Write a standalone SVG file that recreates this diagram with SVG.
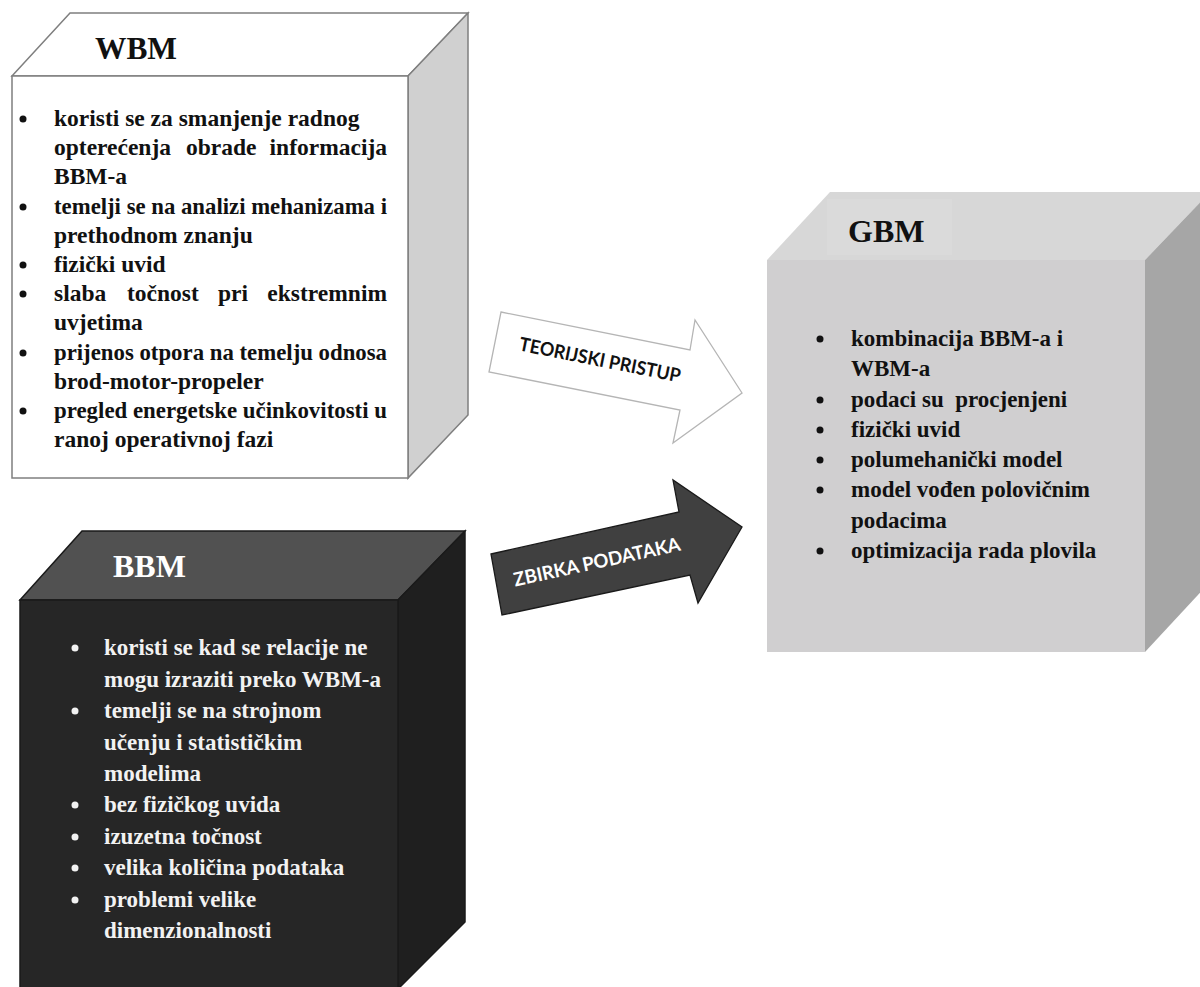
<svg xmlns="http://www.w3.org/2000/svg" width="1200" height="987" viewBox="0 0 1200 987">
<style>
.t{font-family:"Liberation Serif","Times New Roman",serif;font-weight:bold;font-size:23px;fill:#111}
.tl{font-size:23.5px}
.tw{font-family:"Liberation Serif","Times New Roman",serif;font-weight:bold;font-size:23px;fill:#f2f2f2}
.title{font-family:"Liberation Serif","Times New Roman",serif;font-weight:bold;font-size:32px}
.arr{font-family:Lato,"Open Sans",sans-serif;font-weight:bold;font-size:19px}
.b{fill:#111}
.bw{fill:#f2f2f2}
</style>
<rect width="1200" height="987" fill="#fff"/>

<g id="node-wbm">
  <polygon points="12,76 70,13 468,13 408,76" fill="#fff" stroke="#7f7f7f" stroke-width="1.5"/>
  <polygon points="408,76 468,13 468,415 408,478" fill="#d0d0d0" stroke="#7f7f7f" stroke-width="1.5"/>
  <rect x="12" y="76" width="396" height="402" fill="#fff" stroke="#7f7f7f" stroke-width="1.5"/>
  <text class="title" x="95" y="59" font-size="36" textLength="82" lengthAdjust="spacingAndGlyphs" fill="#111">WBM</text>
  <circle class="b" cx="23" cy="119" r="3.5"/>
  <circle class="b" cx="23" cy="207" r="3.5"/>
  <circle class="b" cx="23" cy="265" r="3.5"/>
  <circle class="b" cx="23" cy="294" r="3.5"/>
  <circle class="b" cx="23" cy="353" r="3.5"/>
  <circle class="b" cx="23" cy="411" r="3.5"/>
  <text class="t tl" x="54" y="126">koristi se za smanjenje radnog</text>
  <text class="t tl" x="54" y="155">opterećenja</text>
  <text class="t tl" x="186" y="155">obrade</text>
  <text class="t tl" x="387" y="155" text-anchor="end">informacija</text>
  <text class="t tl" x="54" y="184">BBM-a</text>
  <text class="t tl" x="54" y="214" textLength="333" lengthAdjust="spacingAndGlyphs">temelji se na analizi mehanizama i</text>
  <text class="t tl" x="54" y="243">prethodnom znanju</text>
  <text class="t tl" x="54" y="272">fizički uvid</text>
  <text class="t tl" x="54" y="301">slaba</text>
  <text class="t tl" x="127" y="301">točnost</text>
  <text class="t tl" x="218" y="301">pri</text>
  <text class="t tl" x="387" y="301" text-anchor="end">ekstremnim</text>
  <text class="t tl" x="54" y="330">uvjetima</text>
  <text class="t tl" x="54" y="360" textLength="333" lengthAdjust="spacingAndGlyphs">prijenos otpora na temelju odnosa</text>
  <text class="t tl" x="54" y="389">brod-motor-propeler</text>
  <text class="t tl" x="54" y="418" textLength="333" lengthAdjust="spacingAndGlyphs">pregled energetske učinkovitosti u</text>
  <text class="t tl" x="54" y="447">ranoj operativnoj fazi</text>
</g>

<g id="node-bbm">
  <polygon points="20,600 82,531 465,531 398,600" fill="#515151" stroke="#1a1a1a" stroke-width="1.5"/>
  <polygon points="398,600 465,531 465,922 400,987 398,987" fill="#1f1f1f" stroke="#1a1a1a" stroke-width="1.5"/>
  <rect x="20" y="600" width="378" height="390" fill="#262626" stroke="#1a1a1a" stroke-width="1.5"/>
  <text class="title" x="113" y="577" fill="#fff">BBM</text>
  <circle class="bw" cx="75" cy="648" r="3.5"/>
  <circle class="bw" cx="75" cy="711" r="3.5"/>
  <circle class="bw" cx="75" cy="805" r="3.5"/>
  <circle class="bw" cx="75" cy="837" r="3.5"/>
  <circle class="bw" cx="75" cy="868" r="3.5"/>
  <circle class="bw" cx="75" cy="900" r="3.5"/>
  <text class="tw" x="104" y="655">koristi se kad se relacije ne</text>
  <text class="tw" x="104" y="687">mogu izraziti preko WBM-a</text>
  <text class="tw" x="104" y="718">temelji se na strojnom</text>
  <text class="tw" x="104" y="750">učenju i statističkim</text>
  <text class="tw" x="104" y="781">modelima</text>
  <text class="tw" x="104" y="812">bez fizičkog uvida</text>
  <text class="tw" x="104" y="844">izuzetna točnost</text>
  <text class="tw" x="104" y="875">velika količina podataka</text>
  <text class="tw" x="104" y="907">problemi velike</text>
  <text class="tw" x="104" y="938">dimenzionalnosti</text>
</g>

<g id="node-gbm">
  <polygon points="767,260 830,192 1210,192 1145,260" fill="#d7d7d7"/>
  <polygon points="1145,260 1210,192 1210,582 1145,652" fill="#a6a6a6"/>
  <rect x="767" y="260" width="378" height="392" fill="#d0cfd0"/>
  <rect x="827" y="199" width="125" height="56" fill="#dadada"/>
  <text class="title" x="848" y="242" fill="#111">GBM</text>
  <circle class="b" cx="820" cy="339" r="3.5"/>
  <circle class="b" cx="820" cy="400" r="3.5"/>
  <circle class="b" cx="820" cy="430" r="3.5"/>
  <circle class="b" cx="820" cy="460" r="3.5"/>
  <circle class="b" cx="820" cy="490" r="3.5"/>
  <circle class="b" cx="820" cy="551" r="3.5"/>
  <text class="t" x="851" y="346">kombinacija BBM-a i</text>
  <text class="t" x="851" y="376">WBM-a</text>
  <text class="t" x="851" y="407" style="white-space:pre">podaci su  procjenjeni</text>
  <text class="t" x="851" y="437">fizički uvid</text>
  <text class="t" x="851" y="467">polumehanički model</text>
  <text class="t" x="851" y="497">model vođen polovičnim</text>
  <text class="t" x="851" y="528">podacima</text>
  <text class="t" x="851" y="558">optimizacija rada plovila</text>
</g>

<g id="connectors">
  <g id="arrow-teorijski">
    <polygon points="501,312 690,350 695,320 742,393 673,443 680,410 489,372" fill="#fff" stroke="#b5b5b5" stroke-width="1.3"/>
    <text class="arr" x="0" y="6.5" text-anchor="middle" fill="#111" textLength="164" lengthAdjust="spacingAndGlyphs" transform="translate(600,360) rotate(11.3)">TEORIJSKI PRISTUP</text>
  </g>
  <g id="arrow-zbirka">
    <polygon points="491,554 679,512 673,480 742,527 698,603 690,575 502,615" fill="#404040" stroke="#1a1a1a" stroke-width="1.3"/>
    <text class="arr" x="0" y="6.5" text-anchor="middle" fill="#fff" textLength="170" lengthAdjust="spacingAndGlyphs" transform="translate(597,562) rotate(-12.3)">ZBIRKA PODATAKA</text>
  </g>
</g>
</svg>
